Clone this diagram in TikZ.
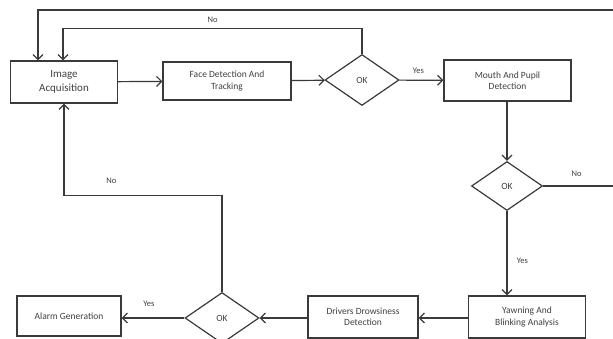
\documentclass[tikz,border=0pt]{standalone}
\usepackage{fontspec}
\setmainfont{Carlito}
\usetikzlibrary{arrows.meta,shapes.geometric}
\definecolor{linegray}{HTML}{3A3A3A}
\definecolor{textgray}{HTML}{404040}
\begin{document}
\begin{tikzpicture}[x=1pt, y=-1pt,
  every node/.style = {text=textgray, font=\fontsize{9.5}{11.5}\selectfont},
  procbox/.style = {shape=rectangle, draw=linegray, line width=1.2pt,
    align=center, inner sep=2pt},
  decision/.style = {shape=diamond, draw=linegray, line width=1.2pt,
    inner sep=0pt, minimum width=74pt, minimum height=51pt},
  flow/.style = {draw=linegray, line width=1.2pt,
    -{Straight Barb[length=5pt,width=10pt]}},
  plain/.style = {draw=linegray, line width=1.2pt},
  lbl/.style = {font=\fontsize{8.5}{10}\selectfont}
  ]
  \useasboundingbox (0,0) rectangle (613,339);
  % process boxes
  \node[procbox, minimum width=107pt, minimum height=42pt,
    font=\fontsize{11}{13.5}\selectfont] (acq) at (64,82) {Image\\Acquisition};
  \node[procbox, minimum width=128pt, minimum height=38pt] (face) at (227,81) {Face Detection And\\Tracking};
  \node[decision] (ok1) at (362,80) {OK};
  \node[procbox, minimum width=127pt, minimum height=41pt] (mouth) at (507.5,80.5) {Mouth And Pupil\\Detection};
  \node[decision, minimum width=71pt, minimum height=49pt] (ok2) at (507,186) {OK};
  \node[procbox, minimum width=117pt, minimum height=42pt] (yawn) at (527,317) {Yawning And\\Blinking Analysis};
  \node[procbox, minimum width=110pt, minimum height=42pt] (drowsy) at (363,317) {Drivers Drowsiness\\Detection};
  \node[decision] (ok3) at (222,318) {OK};
  \node[procbox, minimum width=104pt, minimum height=40pt] (alarm) at (69,316) {Alarm Generation};
  \coordinate (rloop) at (616,10);
  % main flow
  \draw[flow] (acq) -- (face);
  \draw[flow] (face) -- (ok1);
  \draw[flow] (ok1) -- node[lbl, above=3pt, xshift=-3pt] {Yes} (mouth);
  \draw[flow] (mouth.south -| ok2) -- (ok2.north);
  \draw[flow] (ok2.south) -- node[lbl, right=6pt, yshift=-8pt] {Yes} (ok2.south |- yawn.north);
  \draw[flow] (yawn.west |- ok3) -- (drowsy.east |- ok3);
  \draw[flow] (drowsy.west |- ok3) -- (ok3);
  \draw[flow] (ok3) -- node[lbl, above=8pt, xshift=-4pt] {Yes} (alarm.east |- ok3);
  % loops back
  \draw[flow] (ok1.north) -- ++(0,-25) -| node[lbl, pos=0.25, above=2pt] {No} ([xshift=-1pt]acq.north);
  \draw[plain] (ok2.east) -- node[lbl, above=6pt, xshift=-3pt] {No} (ok2.east -| rloop);
  \draw[flow] (rloop) -| ([xshift=-26pt]acq.north);
  \draw[flow] (ok3.north) -- ++(0,-96) -| node[lbl, pos=0.35, above=8pt] {No} (acq.south);
\end{tikzpicture}
\end{document}
